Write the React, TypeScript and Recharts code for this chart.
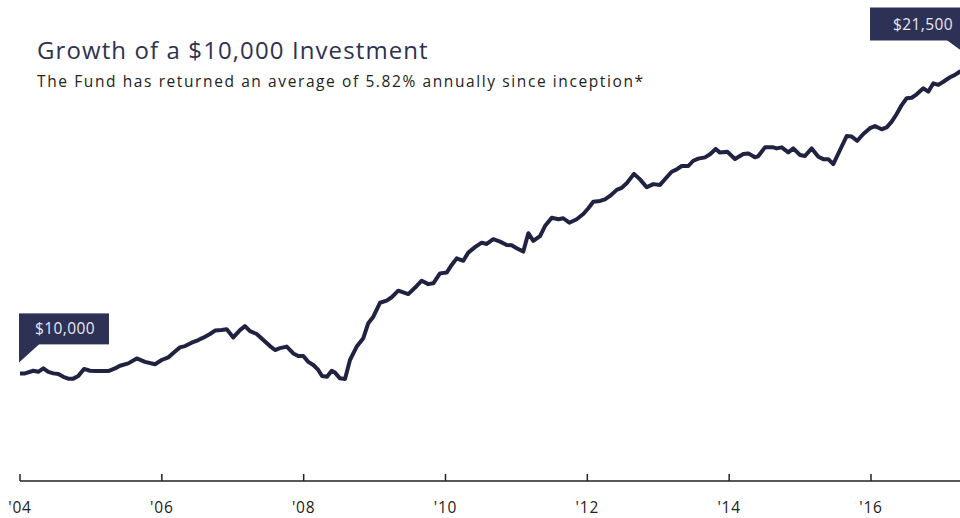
import React from "react";
import { LineChart, Line, XAxis, YAxis, ReferenceDot } from "recharts";

const years: number[] = [
  2004.0, 2004.071, 2004.188, 2004.258, 2004.329, 2004.399, 2004.47, 2004.54, 2004.611, 2004.681,
  2004.752, 2004.822, 2004.902, 2004.987, 2005.082, 2005.245, 2005.34, 2005.41, 2005.527, 2005.646,
  2005.763, 2005.904, 2005.998, 2006.091, 2006.186, 2006.256, 2006.327, 2006.421, 2006.514, 2006.585,
  2006.679, 2006.75, 2006.844, 2006.915, 2007.008, 2007.102, 2007.173, 2007.243, 2007.338, 2007.431,
  2007.525, 2007.596, 2007.666, 2007.761, 2007.854, 2007.924, 2007.995, 2008.065, 2008.136, 2008.206,
  2008.259, 2008.329, 2008.395, 2008.442, 2008.512, 2008.583, 2008.653, 2008.748, 2008.841, 2008.911,
  2008.982, 2009.076, 2009.171, 2009.241, 2009.334, 2009.475, 2009.594, 2009.664, 2009.757, 2009.828,
  2009.922, 2010.017, 2010.087, 2010.158, 2010.251, 2010.321, 2010.416, 2010.51, 2010.581, 2010.674,
  2010.769, 2010.863, 2010.933, 2011.004, 2011.097, 2011.168, 2011.238, 2011.333, 2011.403, 2011.498,
  2011.591, 2011.661, 2011.746, 2011.85, 2011.943, 2012.014, 2012.084, 2012.179, 2012.249, 2012.32,
  2012.414, 2012.485, 2012.555, 2012.658, 2012.743, 2012.837, 2012.93, 2013.025, 2013.119, 2013.19,
  2013.26, 2013.331, 2013.424, 2013.494, 2013.565, 2013.659, 2013.73, 2013.81, 2013.871, 2013.974,
  2014.082, 2014.199, 2014.27, 2014.364, 2014.411, 2014.505, 2014.622, 2014.67, 2014.741, 2014.834,
  2014.904, 2014.999, 2015.069, 2015.164, 2015.257, 2015.327, 2015.398, 2015.468, 2015.563, 2015.657,
  2015.728, 2015.807, 2015.891, 2015.986, 2016.056, 2016.151, 2016.221, 2016.292, 2016.362, 2016.433,
  2016.503, 2016.574, 2016.644, 2016.738, 2016.808, 2016.879, 2016.949, 2017.02, 2017.114, 2017.184,
  2017.255,
];

const values: number[] = [
  10000, 10000, 10100, 10060, 10190, 10060, 10000, 9980, 9870, 9800,
  9800, 9900, 10170, 10100, 10090, 10090, 10190, 10290, 10380, 10570,
  10440, 10350, 10510, 10610, 10830, 10990, 11040, 11170, 11270, 11360,
  11500, 11630, 11650, 11680, 11370, 11650, 11800, 11610, 11500, 11270,
  11040, 10890, 10960, 11020, 10760, 10660, 10660, 10440, 10320, 10130,
  9900, 9870, 10100, 10030, 9810, 9790, 10510, 11020, 11340, 11910,
  12160, 12690, 12770, 12900, 13150, 13020, 13330, 13530, 13400, 13430,
  13810, 13840, 14130, 14380, 14290, 14600, 14810, 14980, 14930, 15110,
  15020, 14890, 14880, 14770, 14640, 15340, 15050, 15230, 15610, 15930,
  15870, 15910, 15740, 15870, 16070, 16290, 16540, 16570, 16630, 16760,
  16990, 17070, 17240, 17600, 17390, 17090, 17210, 17180, 17470, 17680,
  17770, 17900, 17900, 18100, 18180, 18230, 18350, 18550, 18410, 18440,
  18170, 18360, 18380, 18230, 18280, 18610, 18610, 18570, 18610, 18420,
  18570, 18320, 18280, 18570, 18250, 18160, 18160, 17970, 18510, 19040,
  19020, 18860, 19120, 19340, 19420, 19300, 19370, 19590, 19880, 20220,
  20480, 20500, 20630, 20860, 20730, 21050, 20990, 21110, 21280, 21370,
  21500,
];

const tickYears: number[] = [2004, 2006, 2008, 2010, 2012, 2014, 2016];
const tickLabels: string[] = ["'04", "'06", "'08", "'10", "'12", "'14", "'16"];

const startLabel = "$10,000";
const endLabel = "$21,500";
const title = "Growth of a $10,000 Investment";
const subtitle = "The Fund has returned an average of 5.82% annually since inception*";

const data = years.map((y, i) => ({ year: y, value: values[i] }));

const NAVY = "#2d3156";
const LINE = "#1f2241";
const FONT = "'Open Sans', sans-serif";

const AxisTick = (props: any) => {
  const { x, y, payload } = props;
  const idx = tickYears.indexOf(payload.value);
  return (
    <g>
      <line x1={x} x2={x} y1={y - 7} y2={y} stroke="#222" strokeWidth={1.5} />
      <text
        x={x}
        y={y + 32}
        textAnchor="middle"
        fontFamily={FONT}
        fontSize={15.5}
        letterSpacing={0.8}
        fill="#222"
      >
        {idx >= 0 ? tickLabels[idx] : ""}
      </text>
    </g>
  );
};

const StartShape = (props: any) => {
  const { cx, cy } = props;
  const bx = cx - 1;
  const by = cy - 60;
  return (
    <g>
      <rect x={bx} y={by} width={90} height={31} fill={NAVY} />
      <polygon points={`${bx},${by + 30} ${bx + 21},${by + 30} ${bx},${by + 49}`} fill={NAVY} />
      <text
        x={bx + 46}
        y={by + 21}
        textAnchor="middle"
        fontFamily={FONT}
        fontSize={15.5}
        letterSpacing={0.4}
        fill="#e8e8f0"
      >
        {startLabel}
      </text>
    </g>
  );
};

const EndShape = (props: any) => {
  const { cx, cy } = props;
  const bx = cx - 90;
  const by = cy - 64;
  return (
    <g>
      <rect x={bx} y={by} width={110} height={33} fill={NAVY} />
      <polygon points={`${cx - 14},${by + 32} ${cx + 8},${by + 32} ${cx + 8},${by + 48}`} fill={NAVY} />
      <text
        x={cx - 37}
        y={by + 22}
        textAnchor="middle"
        fontFamily={FONT}
        fontSize={15.5}
        letterSpacing={0.4}
        fill="#e8e8f0"
      >
        {endLabel}
      </text>
    </g>
  );
};

export default function App() {
  return (
    <div style={{ position: "absolute", left: 0, top: 0, width: 960, height: 518, background: "#fff" }}>
      <div
        style={{
          position: "absolute",
          left: 37,
          top: 34,
          fontFamily: FONT,
          fontSize: 24,
          letterSpacing: 1.1,
          color: "#2d3250",
          lineHeight: "32px",
          whiteSpace: "nowrap",
        }}
      >
        {title}
      </div>
      <div
        style={{
          position: "absolute",
          left: 37,
          top: 71,
          fontFamily: FONT,
          fontSize: 15.5,
          letterSpacing: 1.6,
          color: "#222",
          lineHeight: "20px",
          whiteSpace: "nowrap",
        }}
      >
        {subtitle}
      </div>
      <LineChart
        width={960}
        height={518}
        data={data}
        margin={{ top: 19, right: 0, left: 20, bottom: 7 }}
        style={{ position: "absolute", left: 0, top: 0 }}
      >
        <XAxis
          dataKey="year"
          type="number"
          domain={[2004, 2017.255]}
          ticks={tickYears}
          tick={<AxisTick />}
          tickLine={false}
          tickSize={0}
          tickMargin={0}
          height={30}
          axisLine={{ stroke: "#222", strokeWidth: 1.5 }}
          allowDataOverflow
          interval={0}
        />
        <YAxis type="number" domain={[5900, 23500]} hide allowDataOverflow />
        <Line
          type="linear"
          dataKey="value"
          stroke={LINE}
          strokeWidth={4}
          dot={false}
          isAnimationActive={false}
          strokeLinejoin="round"
          strokeLinecap="round"
        />
        <ReferenceDot x={years[0]} y={values[0]} r={0} ifOverflow="visible" shape={<StartShape />} />
        <ReferenceDot
          x={years[years.length - 1]}
          y={values[values.length - 1]}
          r={0}
          ifOverflow="visible"
          shape={<EndShape />}
        />
      </LineChart>
    </div>
  );
}
